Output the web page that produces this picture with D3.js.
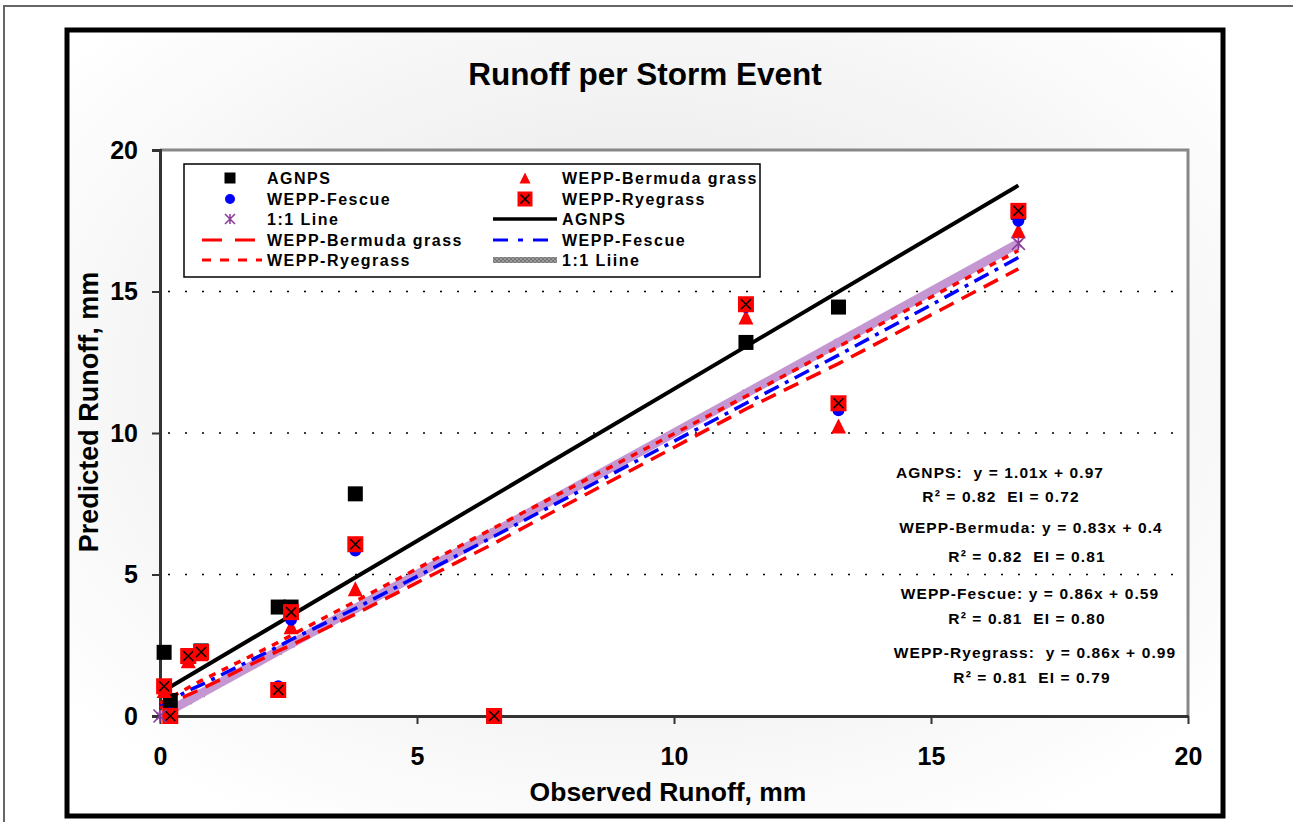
<!DOCTYPE html>
<html><head><meta charset="utf-8">
<script src="https://cdn.jsdelivr.net/npm/d3@7"></script>
<style>
html,body{margin:0;padding:0;background:#fff;}
svg{display:block;font-family:"Liberation Sans",Arial,sans-serif;font-weight:bold;}
</style></head>
<body>
<script>
// ---- data ----
const observed = [0.08, 0.2, 0.55, 0.8, 2.3, 2.55, 3.8, 6.5, 11.4, 13.2, 16.7];
const agnps    = [2.25, 0.55, 2.1, 2.3, 3.85, 3.85, 7.85, 0, 13.2, 14.45, 17.8];
const bermuda  = [0.9, 0, 1.95, 2.2, 0.9, 3.15, 4.5, 0, 14.1, 10.25, 17.15];
const fescue   = [1.05, 0.1, 2.05, 2.25, 1.05, 3.4, 5.85, 0.05, 14.45, 10.8, 17.5];
const ryegrass = [1.05, 0, 2.12, 2.26, 0.92, 3.67, 6.07, 0, 14.55, 11.05, 17.85];

const lineX        = [0, 0.2, 0.55, 0.8, 2.3, 2.55, 3.8, 6.5, 11.4, 13.2, 16.7];
const oneToOne     = [0, 0.2, 0.55, 0.8, 2.3, 2.55, 3.8, 6.5, 11.4, 13.2, 16.7];
const bermudaLine  = [0.3, 0.45, 0.75, 0.95, 2.3, 2.5, 3.6, 6.1, 10.85, 12.45, 15.8];
const fescueLine   = [0.4, 0.55, 0.9, 1.1, 2.45, 2.7, 3.8, 6.35, 11.05, 12.75, 16.2];
const ryegrassLine = [0.45, 0.65, 1.0, 1.25, 2.6, 2.85, 4.05, 6.65, 11.3, 13.05, 16.45];
const agnpsLineX   = [0.08, 16.7];
const agnpsLineY   = [0.9, 18.75];

const xTicks = [0, 5, 10, 15, 20];
const yTicks = [0, 5, 10, 15, 20];
const gridTicks = [5, 10, 15];

const equations = [
  "AGNPS:  y = 1.01x + 0.97", "R² = 0.82  EI = 0.72",
  "WEPP-Bermuda: y = 0.83x + 0.4", "R² = 0.82  EI = 0.81",
  "WEPP-Fescue: y = 0.86x + 0.59", "R² = 0.81  EI = 0.80",
  "WEPP-Ryegrass:  y = 0.86x + 0.99", "R² = 0.81  EI = 0.79"
];

// ---- drawing ----
const W = 1293, H = 822;
const svg = d3.select("body").append("svg").attr("width", W).attr("height", H);
const defs = svg.append("defs");
const rg = defs.append("radialGradient").attr("id","bg").attr("cx","50%").attr("cy","45%").attr("r","65%");
rg.append("stop").attr("offset","0%").attr("stop-color","#e2e2e2");
rg.append("stop").attr("offset","100%").attr("stop-color","#ffffff");
const pat = defs.append("pattern").attr("id","grayPat").attr("patternUnits","userSpaceOnUse")
  .attr("width",4).attr("height",4);
pat.append("rect").attr("width",4).attr("height",4).attr("fill","#9a9a9a");
pat.append("rect").attr("width",2).attr("height",2).attr("fill","#777");
pat.append("rect").attr("x",2).attr("y",2).attr("width",2).attr("height",2).attr("fill","#777");

svg.append("rect").attr("x",4).attr("y",6).attr("width",W+10).attr("height",H+10)
  .attr("fill","#fff").attr("stroke","#666").attr("stroke-width",2);
svg.append("rect").attr("x",67).attr("y",30).attr("width",1156).attr("height",786)
  .attr("fill","url(#bg)").attr("stroke","#000").attr("stroke-width",5);

const x = d3.scaleLinear().domain([0,20]).range([160,1188]);
const y = d3.scaleLinear().domain([0,20]).range([716,150]);

// plot area
svg.append("rect").attr("x",x(0)).attr("y",y(20)).attr("width",x(20)-x(0)).attr("height",y(0)-y(20))
  .attr("fill","#fff");
svg.append("path").attr("d",`M${x(0)},${y(20)}H${x(20)}V${y(0)}`).attr("fill","none")
  .attr("stroke","#888").attr("stroke-width",3);

// gridlines
svg.append("g").selectAll("line").data(gridTicks).join("line")
  .attr("x1",x(0)+8).attr("x2",x(20)).attr("y1",d=>y(d)).attr("y2",d=>y(d))
  .attr("stroke","#000").attr("stroke-width",1.5).attr("stroke-dasharray","2,15");

// axes
const xAxis = svg.append("g").attr("transform",`translate(0,${y(0)})`)
  .call(d3.axisBottom(x).tickValues(xTicks).tickSize(0).tickPadding(44).tickFormat(d3.format("d")));
const yAxis = svg.append("g").attr("transform",`translate(${x(0)},0)`)
  .call(d3.axisLeft(y).tickValues(yTicks).tickSize(8).tickPadding(14).tickFormat(d3.format("d")));
[xAxis,yAxis].forEach(g=>{
  g.select(".domain").attr("stroke","#333").attr("stroke-width",3);
  g.selectAll(".tick line").attr("stroke","#333").attr("stroke-width",2);
  g.selectAll("text").attr("font-size",25).attr("font-weight","bold")
    .attr("font-family","'Liberation Sans',Arial,sans-serif").attr("fill","#000");
});
xAxis.selectAll(".tick").append("line").attr("y1",0).attr("y2",8).attr("stroke","#333").attr("stroke-width",2);
xAxis.selectAll(".tick text").attr("dy","0.2em");

// marker helpers
function square(g, cx, cy, s, fill){
  g.append("rect").attr("x",cx-s/2).attr("y",cy-s/2).attr("width",s).attr("height",s).attr("fill",fill);
}
function tri(g, cx, cy, s){
  g.append("path").attr("d",`M${cx},${cy-s/2}L${cx+s/2},${cy+s/2}L${cx-s/2},${cy+s/2}Z`).attr("fill","#ff0000");
}
function circ(g, cx, cy, r){
  g.append("circle").attr("cx",cx).attr("cy",cy).attr("r",r).attr("fill","#0000ff");
}
function xsq(g, cx, cy, s){
  square(g,cx,cy,s,"#ff0000");
  const a = s/2-3;
  g.append("path").attr("d",`M${cx-a},${cy-a}L${cx+a},${cy+a}M${cx+a},${cy-a}L${cx-a},${cy+a}`)
    .attr("stroke","#000").attr("stroke-width",1.5);
}
function star(g, cx, cy, s){
  const a = s/2;
  g.append("path").attr("d",`M${cx-a},${cy-a}L${cx+a},${cy+a}M${cx+a},${cy-a}L${cx-a},${cy+a}M${cx},${cy-a}V${cy+a}`)
    .attr("stroke","#8a3a9a").attr("stroke-width",1.5);
}

// 1:1 markers beneath the thick line (hidden by it)
const sg = svg.append("g");
lineX.forEach((o,i)=>star(sg, x(o), y(oneToOne[i]), 7));

// lines
const mk = (xs, ys) => d3.line().x((d,i)=>x(xs[i])).y(d=>y(d))(ys);
svg.append("path").attr("d",mk(lineX,oneToOne)).attr("fill","none")
  .attr("stroke","#c497d2").attr("stroke-width",9);
svg.append("path").attr("d",mk(agnpsLineX,agnpsLineY)).attr("fill","none")
  .attr("stroke","#000").attr("stroke-width",4);
svg.append("path").attr("d",mk(lineX,bermudaLine)).attr("fill","none")
  .attr("stroke","#ff0000").attr("stroke-width",3.5).attr("stroke-dasharray","16,9");
svg.append("path").attr("d",mk(lineX,fescueLine)).attr("fill","none")
  .attr("stroke","#0000ff").attr("stroke-width",3.5).attr("stroke-dasharray","16,7,4,7");
svg.append("path").attr("d",mk(lineX,ryegrassLine)).attr("fill","none")
  .attr("stroke","#ff0000").attr("stroke-width",3.5).attr("stroke-dasharray","7,7");

const m = svg.append("g");
observed.forEach((o,i)=>square(m, x(o), y(agnps[i]), 15, "#000"));
observed.forEach((o,i)=>tri(m, x(o), y(bermuda[i]), 15));
observed.forEach((o,i)=>circ(m, x(o), y(fescue[i]), 6));
observed.forEach((o,i)=>xsq(m, x(o), y(ryegrass[i]), 16));
// end markers of the 1:1 series are visible
[0, lineX.length-1].forEach(i=>star(m, x(lineX[i]), y(oneToOne[i]), 13));

// legend
const lg = svg.append("g");
lg.append("rect").attr("x",184).attr("y",164).attr("width",576).attr("height",113)
  .attr("fill","#fff").attr("stroke","#000").attr("stroke-width",1.5);
const rows = [178,199,219,240,260];
const lt = (tx, ty, s) => lg.append("text").attr("x",tx).attr("y",ty).attr("dy","0.36em")
  .attr("font-size",16).attr("letter-spacing","1.5px").text(s);
square(lg,230,rows[0],11,"#000"); lt(267,rows[0],"AGNPS");
circ(lg,230,rows[1],5); lt(267,rows[1],"WEPP-Fescue");
star(lg,230,rows[2],10); lt(267,rows[2],"1:1 Line");
lg.append("line").attr("x1",202).attr("x2",262).attr("y1",rows[3]).attr("y2",rows[3])
  .attr("stroke","#ff0000").attr("stroke-width",3).attr("stroke-dasharray","20,13");
lt(267,rows[3],"WEPP-Bermuda grass");
lg.append("line").attr("x1",202).attr("x2",262).attr("y1",rows[4]).attr("y2",rows[4])
  .attr("stroke","#ff0000").attr("stroke-width",3).attr("stroke-dasharray","9,9");
lt(267,rows[4],"WEPP-Ryegrass");
tri(lg,525,rows[0],11); lt(562,rows[0],"WEPP-Bermuda grass");
xsq(lg,525,rows[1],15); lt(562,rows[1],"WEPP-Ryegrass");
lg.append("line").attr("x1",493).attr("x2",557).attr("y1",rows[2]).attr("y2",rows[2])
  .attr("stroke","#000").attr("stroke-width",3.5);
lt(562,rows[2],"AGNPS");
lg.append("line").attr("x1",493).attr("x2",557).attr("y1",rows[3]).attr("y2",rows[3])
  .attr("stroke","#0000ff").attr("stroke-width",3).attr("stroke-dasharray","15,10,5,10");
lt(562,rows[3],"WEPP-Fescue");
lg.append("rect").attr("x",493).attr("y",rows[4]-3).attr("width",64).attr("height",6)
  .attr("fill","url(#grayPat)");
lt(562,rows[4],"1:1 Liine");

// equations
const eqPos = [[1000,478],[1001,502],[1031,533],[1027,562],[1030,599],[1027,624],[1035,658],[1032,683]];
svg.append("g").selectAll("text").data(equations).join("text")
  .attr("x",(d,i)=>eqPos[i][0]).attr("y",(d,i)=>eqPos[i][1])
  .style("white-space","pre")
  .attr("text-anchor","middle").attr("font-size",15.5).attr("letter-spacing","1.1px").text(d=>d);

// titles
svg.append("text").attr("x",645).attr("y",85).attr("text-anchor","middle").attr("font-size",31.5)
  .text("Runoff per Storm Event");
svg.append("text").attr("x",668).attr("y",801).attr("text-anchor","middle").attr("font-size",26.5)
  .text("Observed Runoff, mm");
svg.append("text").attr("transform","translate(98,412) rotate(-90)").attr("text-anchor","middle")
  .attr("font-size",27).text("Predicted Runoff, mm");
</script>
</body></html>
